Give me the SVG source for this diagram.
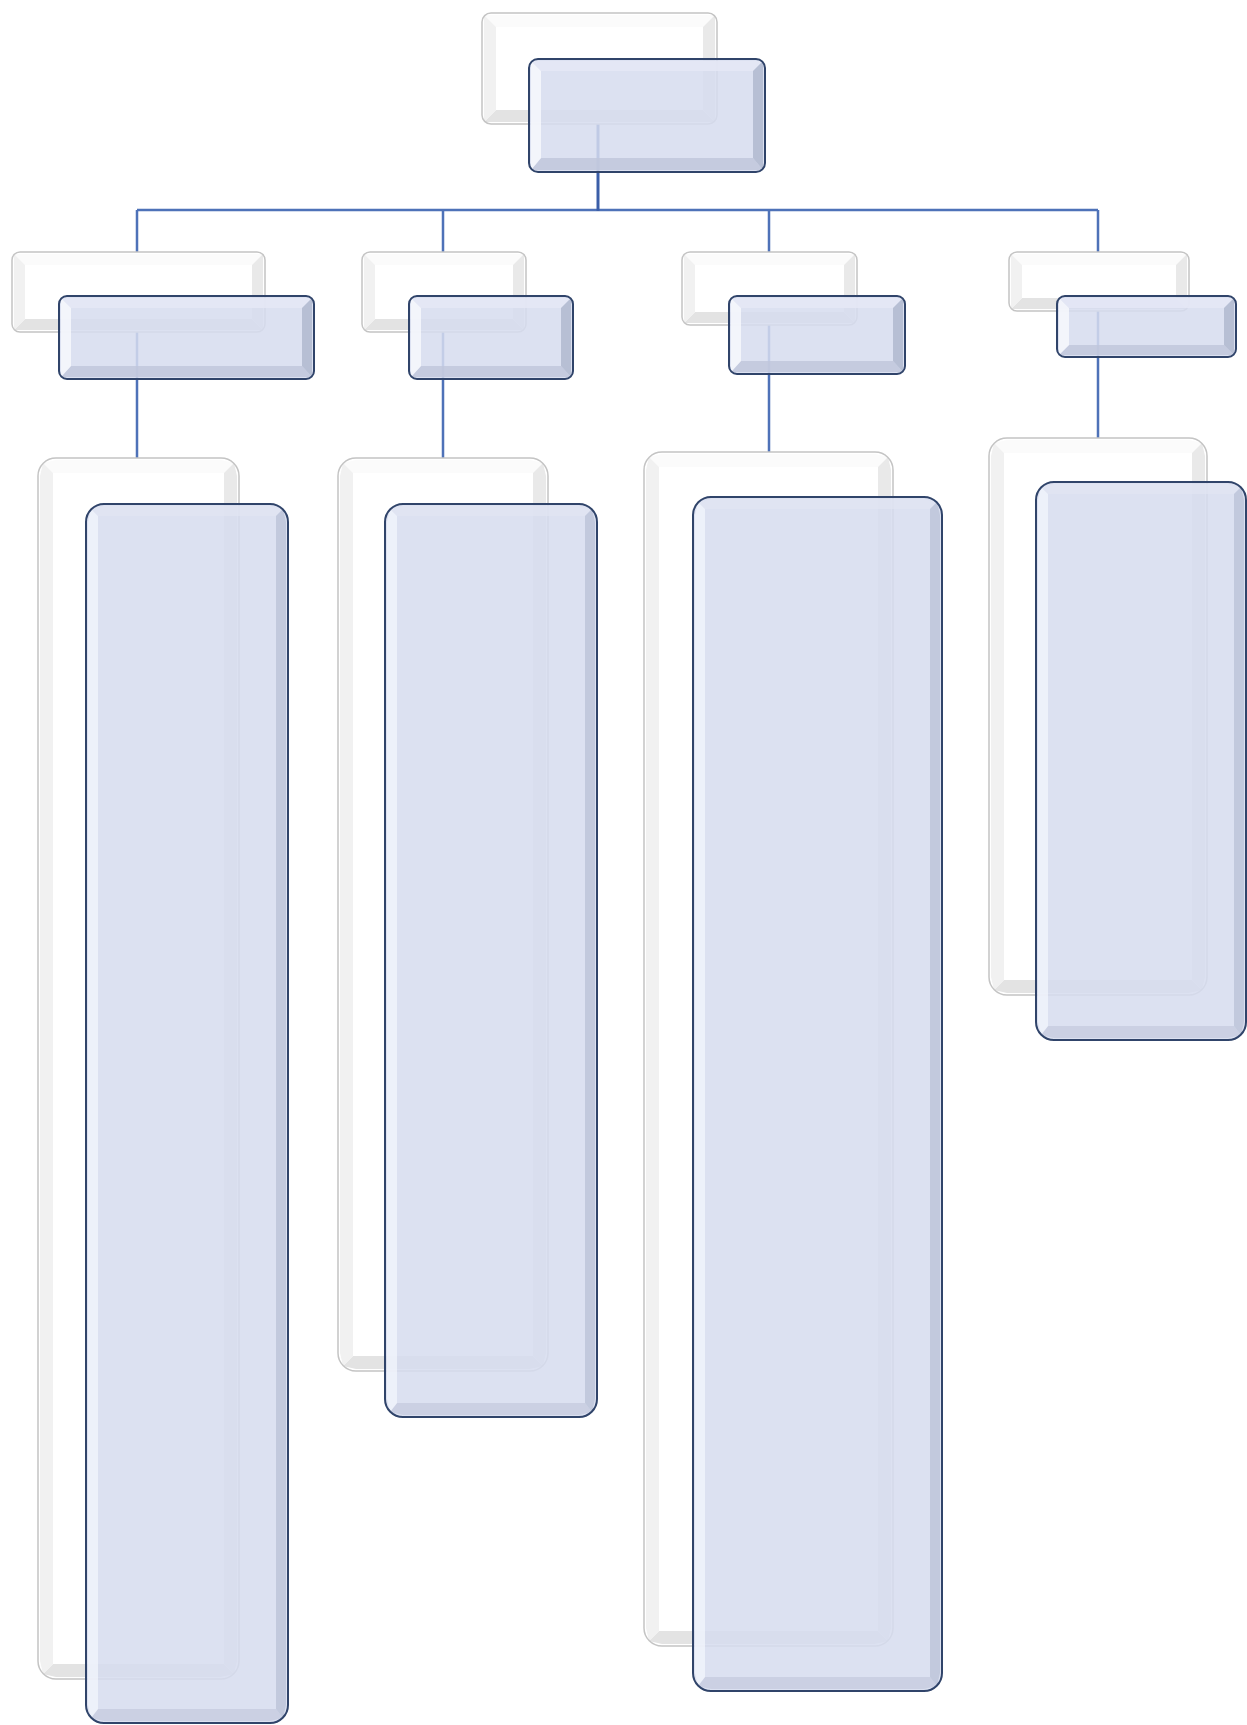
<svg xmlns="http://www.w3.org/2000/svg" width="1247" height="1725" viewBox="0 0 1247 1725">
<style>
.bg{fill:#ffffff}
.wf{fill:#ffffff;stroke:none}
.ws{fill:none;stroke:#c4c4c4;stroke-width:1.5}
.wt{fill:#fbfbfb}
.wl{fill:#f1f1f1}
.wr{fill:#e9e9e9}
.wb{fill:#e3e3e3}
.bf{fill:#d6dcef;fill-opacity:0.86;stroke:none}
.bs{fill:none;stroke:#30446a;stroke-width:2}
.bt{fill:#e6e9f6;fill-opacity:0.8}
.bl{fill:#f7f8fd;fill-opacity:0.85}
.br{fill:#aeb6cd;fill-opacity:0.8}
.bb{fill:#bfc6db;fill-opacity:0.8}
.bt3{fill:#e2e6f4;fill-opacity:0.6}
.bl3{fill:#f3f5fc;fill-opacity:0.75}
.br3{fill:#b7bfd4;fill-opacity:0.7}
.bb3{fill:#c3c9dd;fill-opacity:0.7}
.c{fill:none;stroke:#4e72b8;stroke-width:2.5}
.c0{fill:none;stroke:#3b5ea8;stroke-width:3}
</style>
<rect class="bg" x="0" y="0" width="1247" height="1725"/>

<g id="connectors">
<path class="c" d="M137,210 H1098"/>
<path class="c0" d="M598,124 V211"/>
<path class="c" d="M137,210 V252 M443,210 V252 M769,210 V252 M1098,210 V252"/>
<path class="c" d="M137,332 V458 M443,332 V458 M769,325 V452 M1098,311 V438"/>
</g>

<g id="node-root">
<rect class="wf" x="482" y="13" width="235" height="111" rx="9"/>
<polygon class="wt" points="484,15 715,15 703,27 496,27"/>
<polygon class="wb" points="484,122 715,122 703,110 496,110"/>
<polygon class="wl" points="484,15 496,27 496,110 484,122"/>
<polygon class="wr" points="715,15 703,27 703,110 715,122"/>
<rect class="ws" x="482" y="13" width="235" height="111" rx="9"/>
<rect class="bf" x="529" y="59" width="236" height="113" rx="9"/>
<polygon class="bt" points="531,61 763,61 753,71 541,71"/>
<polygon class="bb" points="531,170 763,170 753,158 541,158"/>
<polygon class="bl" points="531,61 541,71 541,158 531,170"/>
<polygon class="br" points="763,61 753,71 753,158 763,170"/>
<rect class="bs" x="529" y="59" width="236" height="113" rx="9"/>
</g>

<g id="node-a">
<rect class="wf" x="12" y="252" width="253" height="80" rx="8"/>
<polygon class="wt" points="14,254 263,254 252,265 25,265"/>
<polygon class="wb" points="14,330 263,330 252,319 25,319"/>
<polygon class="wl" points="14,254 25,265 25,319 14,330"/>
<polygon class="wr" points="263,254 252,265 252,319 263,330"/>
<rect class="ws" x="12" y="252" width="253" height="80" rx="8"/>
<rect class="bf" x="59" y="296" width="255" height="83" rx="8"/>
<polygon class="bt" points="61,298 312,298 302,308 71,308"/>
<polygon class="bb" points="61,377 312,377 302,366 71,366"/>
<polygon class="bl" points="61,298 71,308 71,366 61,377"/>
<polygon class="br" points="312,298 302,308 302,366 312,377"/>
<rect class="bs" x="59" y="296" width="255" height="83" rx="8"/>
</g>

<g id="node-b">
<rect class="wf" x="362" y="252" width="164" height="80" rx="8"/>
<polygon class="wt" points="364,254 524,254 513,265 375,265"/>
<polygon class="wb" points="364,330 524,330 513,319 375,319"/>
<polygon class="wl" points="364,254 375,265 375,319 364,330"/>
<polygon class="wr" points="524,254 513,265 513,319 524,330"/>
<rect class="ws" x="362" y="252" width="164" height="80" rx="8"/>
<rect class="bf" x="409" y="296" width="164" height="83" rx="8"/>
<polygon class="bt" points="411,298 571,298 561,308 421,308"/>
<polygon class="bb" points="411,377 571,377 561,366 421,366"/>
<polygon class="bl" points="411,298 421,308 421,366 411,377"/>
<polygon class="br" points="571,298 561,308 561,366 571,377"/>
<rect class="bs" x="409" y="296" width="164" height="83" rx="8"/>
</g>

<g id="node-c">
<rect class="wf" x="682" y="252" width="175" height="73" rx="8"/>
<polygon class="wt" points="684,254 855,254 844,265 695,265"/>
<polygon class="wb" points="684,323 855,323 844,312 695,312"/>
<polygon class="wl" points="684,254 695,265 695,312 684,323"/>
<polygon class="wr" points="855,254 844,265 844,312 855,323"/>
<rect class="ws" x="682" y="252" width="175" height="73" rx="8"/>
<rect class="bf" x="729" y="296" width="176" height="78" rx="8"/>
<polygon class="bt" points="731,298 903,298 893,308 741,308"/>
<polygon class="bb" points="731,372 903,372 893,361 741,361"/>
<polygon class="bl" points="731,298 741,308 741,361 731,372"/>
<polygon class="br" points="903,298 893,308 893,361 903,372"/>
<rect class="bs" x="729" y="296" width="176" height="78" rx="8"/>
</g>

<g id="node-d">
<rect class="wf" x="1009" y="252" width="180" height="59" rx="8"/>
<polygon class="wt" points="1011,254 1187,254 1176,265 1022,265"/>
<polygon class="wb" points="1011,309 1187,309 1176,298 1022,298"/>
<polygon class="wl" points="1011,254 1022,265 1022,298 1011,309"/>
<polygon class="wr" points="1187,254 1176,265 1176,298 1187,309"/>
<rect class="ws" x="1009" y="252" width="180" height="59" rx="8"/>
<rect class="bf" x="1057" y="296" width="179" height="61" rx="8"/>
<polygon class="bt" points="1059,298 1234,298 1224,308 1069,308"/>
<polygon class="bb" points="1059,355 1234,355 1224,345 1069,345"/>
<polygon class="bl" points="1059,298 1069,308 1069,345 1059,355"/>
<polygon class="br" points="1234,298 1224,308 1224,345 1234,355"/>
<rect class="bs" x="1057" y="296" width="179" height="61" rx="8"/>
</g>

<g id="node-a-detail">
<rect class="wf" x="38" y="458" width="201" height="1221" rx="18"/>
<polygon class="wt" points="43,463 56,460 221,460 234,463 224,473 53,473"/>
<polygon class="wb" points="43,1674 56,1677 221,1677 234,1674 224,1664 53,1664"/>
<polygon class="wl" points="43,463 53,473 53,1664 43,1674 40,1661 40,476"/>
<polygon class="wr" points="234,463 224,473 224,1664 234,1674 237,1661 237,476"/>
<rect class="ws" x="38" y="458" width="201" height="1221" rx="18"/>
<rect class="bf" x="86" y="504" width="202" height="1219" rx="18"/>
<polygon class="bt3" points="91,509 104,506 270,506 283,509 276,516 98,516"/>
<polygon class="bb3" points="91,1718 104,1721 270,1721 283,1718 276,1709 98,1709"/>
<polygon class="bl3" points="91,509 98,516 98,1709 91,1718 88,1705 88,522"/>
<polygon class="br3" points="283,509 276,516 276,1709 283,1718 286,1705 286,522"/>
<rect class="bs" x="86" y="504" width="202" height="1219" rx="18"/>
</g>

<g id="node-b-detail">
<rect class="wf" x="338" y="458" width="210" height="913" rx="18"/>
<polygon class="wt" points="343,463 356,460 530,460 543,463 533,473 353,473"/>
<polygon class="wb" points="343,1366 356,1369 530,1369 543,1366 533,1356 353,1356"/>
<polygon class="wl" points="343,463 353,473 353,1356 343,1366 340,1353 340,476"/>
<polygon class="wr" points="543,463 533,473 533,1356 543,1366 546,1353 546,476"/>
<rect class="ws" x="338" y="458" width="210" height="913" rx="18"/>
<rect class="bf" x="385" y="504" width="212" height="913" rx="18"/>
<polygon class="bt3" points="390,509 403,506 579,506 592,509 585,516 397,516"/>
<polygon class="bb3" points="390,1412 403,1415 579,1415 592,1412 585,1403 397,1403"/>
<polygon class="bl3" points="390,509 397,516 397,1403 390,1412 387,1399 387,522"/>
<polygon class="br3" points="592,509 585,516 585,1403 592,1412 595,1399 595,522"/>
<rect class="bs" x="385" y="504" width="212" height="913" rx="18"/>
</g>

<g id="node-c-detail">
<rect class="wf" x="644" y="452" width="249" height="1194" rx="18"/>
<polygon class="wt" points="649,457 662,454 875,454 888,457 878,467 659,467"/>
<polygon class="wb" points="649,1641 662,1644 875,1644 888,1641 878,1631 659,1631"/>
<polygon class="wl" points="649,457 659,467 659,1631 649,1641 646,1628 646,470"/>
<polygon class="wr" points="888,457 878,467 878,1631 888,1641 891,1628 891,470"/>
<rect class="ws" x="644" y="452" width="249" height="1194" rx="18"/>
<rect class="bf" x="693" y="497" width="249" height="1194" rx="18"/>
<polygon class="bt3" points="698,502 711,499 924,499 937,502 930,509 705,509"/>
<polygon class="bb3" points="698,1686 711,1689 924,1689 937,1686 930,1677 705,1677"/>
<polygon class="bl3" points="698,502 705,509 705,1677 698,1686 695,1673 695,515"/>
<polygon class="br3" points="937,502 930,509 930,1677 937,1686 940,1673 940,515"/>
<rect class="bs" x="693" y="497" width="249" height="1194" rx="18"/>
</g>

<g id="node-d-detail">
<rect class="wf" x="989" y="438" width="218" height="557" rx="18"/>
<polygon class="wt" points="994,443 1007,440 1189,440 1202,443 1192,453 1004,453"/>
<polygon class="wb" points="994,990 1007,993 1189,993 1202,990 1192,980 1004,980"/>
<polygon class="wl" points="994,443 1004,453 1004,980 994,990 991,977 991,456"/>
<polygon class="wr" points="1202,443 1192,453 1192,980 1202,990 1205,977 1205,456"/>
<rect class="ws" x="989" y="438" width="218" height="557" rx="18"/>
<rect class="bf" x="1036" y="482" width="210" height="558" rx="18"/>
<polygon class="bt3" points="1041,487 1054,484 1228,484 1241,487 1234,494 1048,494"/>
<polygon class="bb3" points="1041,1035 1054,1038 1228,1038 1241,1035 1234,1026 1048,1026"/>
<polygon class="bl3" points="1041,487 1048,494 1048,1026 1041,1035 1038,1022 1038,500"/>
<polygon class="br3" points="1241,487 1234,494 1234,1026 1241,1035 1244,1022 1244,500"/>
<rect class="bs" x="1036" y="482" width="210" height="558" rx="18"/>
</g>
</svg>
